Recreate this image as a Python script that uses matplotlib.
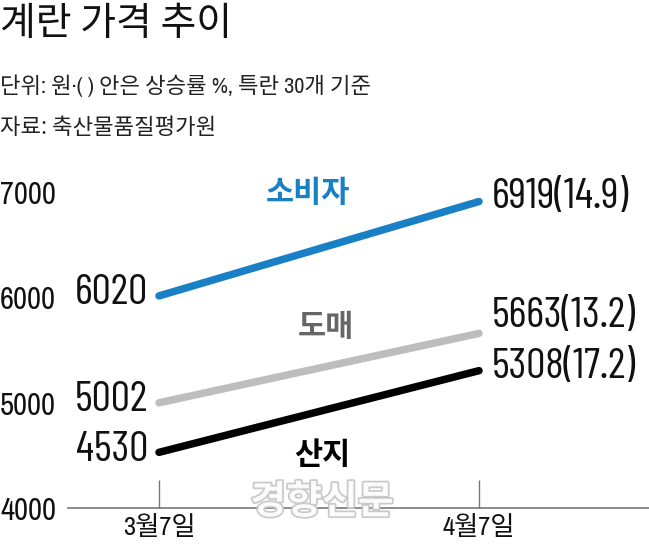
import matplotlib.pyplot as plt
import matplotlib.patheffects as pe

# data
dates = ['3월7일', '4월7일']
consumer = [6020, 6919]
wholesale = [5002, 5663]
farm = [4530, 5308]
rise = {'consumer': 14.9, 'wholesale': 13.2, 'farm': 17.2}
yticks = [4000, 5000, 6000, 7000]

KR = ['Noto Sans CJK KR', 'DejaVu Sans']
NUM = ['Archivo Narrow', 'Noto Sans CJK KR', 'DejaVu Sans']
BIG = ['Barlow Condensed', 'Archivo Narrow', 'DejaVu Sans']
BLUE = '#1a80c6'
GRAY = '#bdbdbd'

W, H = 649, 550
fig = plt.figure(figsize=(W / 100, H / 100), dpi=100)

# title and notes
fig.text(0, 1 - 24 / H, '계란 가격 추이', family=KR, fontsize=28, fontweight='medium',
         va='center', ha='left', color='#111111')
fig.text(0, 1 - 86 / H, '단위: 원·( ) 안은 상승률 %, 특란 30개 기준',
         family=NUM, fontsize=16, va='center', ha='left', color='#222222')
fig.text(0, 1 - 128 / H, '자료: 축산물품질평가원',
         family=KR, fontsize=16, va='center', ha='left', color='#222222')

# axes: left at 68px, bottom at 508px, top (7000) at 193px
ax = fig.add_axes([68 / W, 42 / H, (W - 68) / W, 315 / H])
x = [0, 1]
ax.set_xlim(-91 / 320, -91 / 320 + 581 / 320)
ax.set_ylim(4000, 7000)

for vals, col in [(consumer, BLUE), (wholesale, GRAY), (farm, 'black')]:
    ax.plot(x, vals, color=col, lw=5.4, solid_capstyle='round', clip_on=False)

for s in ['top', 'right', 'left']:
    ax.spines[s].set_visible(False)
ax.spines['bottom'].set_color('#777777')
ax.spines['bottom'].set_linewidth(1.2)

ax.set_xticks(x)
ax.set_xticklabels(dates, family=NUM, fontsize=19, color='#111111')
ax.tick_params(axis='x', direction='in', length=20, width=1, color='#777777', pad=5)

ax.set_yticks(yticks)
ax.set_yticklabels([str(v) for v in yticks], family=NUM, fontsize=22, color='#111111')
ax.tick_params(axis='y', length=0, pad=68 / 1.389)
for lab in ax.get_yticklabels():
    lab.set_horizontalalignment('left')

# start values
for vals in [consumer, wholesale, farm]:
    ax.annotate(str(vals[0]), (x[0], vals[0]), xytext=(-8, 1.5), textcoords='offset points',
                ha='right', va='center', family=BIG, fontsize=31, color='#111111',
                annotation_clip=False)

# end values
for vals, key, dy in [(consumer, 'consumer', 3), (wholesale, 'wholesale', 12), (farm, 'farm', 2)]:
    ax.annotate(f'{vals[1]}({rise[key]})', (x[1], vals[1]), xytext=(9.5, dy),
                textcoords='offset points', ha='left', va='center', family=BIG,
                fontsize=31, color='#111111', annotation_clip=False)

# series names
ax.text(0.466, 7000, '소비자', family=KR, fontsize=22, fontweight='bold',
        color=BLUE, ha='center', va='center')
ax.text(0.52, 5724, '도매', family=KR, fontsize=22, fontweight='bold',
        color='#666666', ha='center', va='center')
ax.text(0.51, 4505, '산지', family=KR, fontsize=22, fontweight='bold',
        color='black', ha='center', va='center')

# watermark
fig.text(322 / W, 1 - 502 / H, '경향신문', family=KR, fontsize=28, fontweight='bold',
         color='white', ha='center', va='center', alpha=0.9,
         path_effects=[pe.withStroke(linewidth=2.5, foreground='#c4c4c4')])

fig.savefig('out.png', dpi=100)
